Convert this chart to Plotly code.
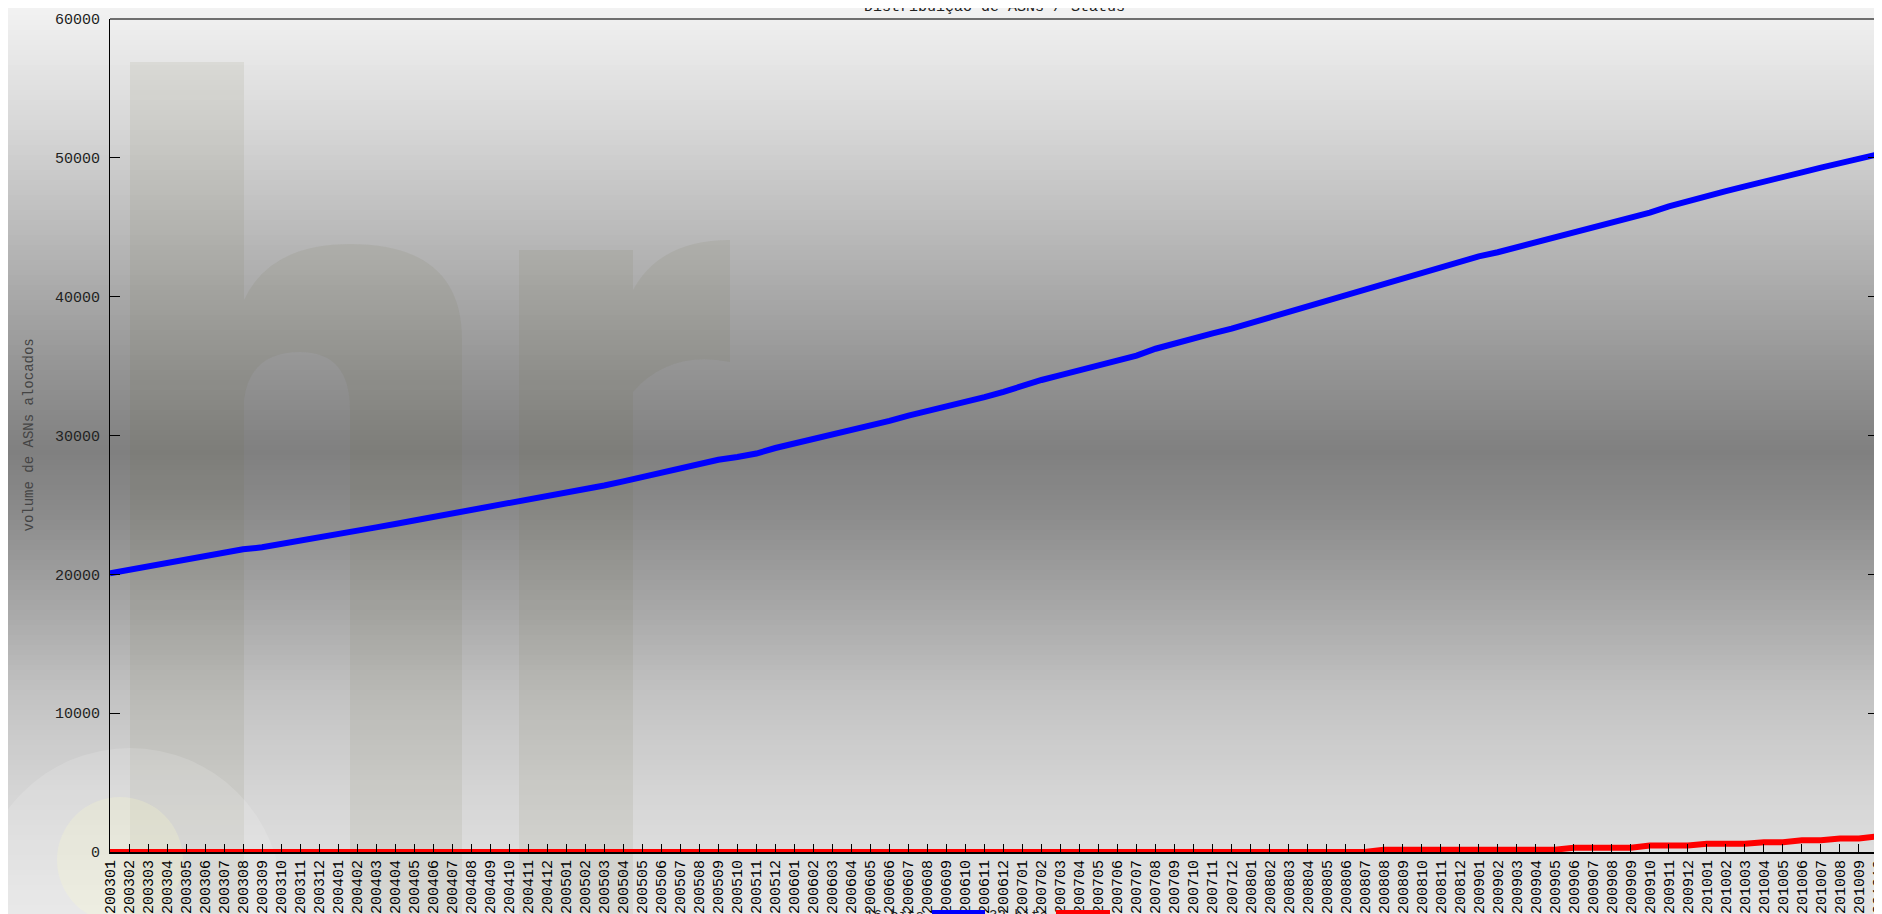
import plotly.graph_objects as go

# ---------------- data ----------------
months = [f"{y}{m:02d}" for y in range(2003, 2011) for m in range(1, 13)][:94]

asn_16bits = [
    20080, 20330, 20560, 20850, 21120, 21400, 21640, 21800, 21950, 22180, 22420, 22600,
    22880, 23120, 23380, 23630, 23880, 24150, 24380, 24560, 24840, 25080, 25350, 25560,
    25820, 26100, 26400, 26700, 27000, 27400, 27700, 27980, 28250, 28450, 28700, 29100,
    29420, 29700, 30050, 30380, 30700, 31050, 31430, 31750, 32050, 32400, 32760, 33150,
    33600, 34000, 34350, 34700, 35100, 35450, 35750, 36250, 36650, 37000, 37350, 37700,
    38100, 38500, 38900, 39300, 39700, 40100, 40550, 41000, 41400, 41800, 42200, 42550,
    42900, 43200, 43550, 43900, 44250, 44650, 45000, 45350, 45700, 46050, 46500, 46900,
    47250, 47600, 47950, 48250, 48600, 48950, 49300, 49600, 49900, 50250,
]

asn_32bits = [
    0, 0, 0, 0, 0, 0, 0, 0, 0, 0, 0, 0,
    0, 0, 0, 0, 0, 0, 0, 0, 0, 0, 0, 0,
    0, 0, 0, 0, 0, 0, 0, 0, 0, 0, 0, 0,
    0, 0, 0, 0, 0, 0, 0, 0, 0, 0, 0, 0,
    0, 0, 0, 0, 0, 0, 0, 0, 0, 0, 0, 0,
    0, 0, 0, 0, 0, 0, 0, 170, 170, 170, 170, 170,
    170, 170, 170, 170, 170, 300, 300, 300, 300, 460, 460, 460,
    590, 590, 590, 710, 710, 850, 850, 970, 970, 1140,
]

y_ticks = [0, 10000, 20000, 30000, 40000, 50000, 60000]
title_text = "Distribuição de ASNs / Status"
y_title = "volume de ASNs alocados"
legend_names = ["16 bits", "32 bits"]

# ---------------- geometry (style only) ----------------
# the page body adds an 8px offset; plot area in page pixels: x 110..1878, y 19..852
OFF = 8
W, H = 1882, 914
PL, PR, PT, PB = 110, 1878, 19, 852
PW, PH = PR - PL, PB - PT
L, T = PL - OFF, PT - OFF
R = W - (PR - OFF)
B = H - (PB - OFF)


def px(x):
    return (x - PL) / PW


def py(y):
    return (PB - y) / PH


MONO = "Liberation Mono, DejaVu Sans Mono, monospace"

fig = go.Figure()
fig.add_trace(go.Scatter(x=months, y=asn_16bits, mode="lines", name=legend_names[0],
                         line=dict(color="#0000ff", width=6)))
fig.add_trace(go.Scatter(x=months, y=asn_32bits, mode="lines", name=legend_names[1],
                         line=dict(color="#ff0000", width=6)))

shapes = []
stops = [(0, 244), (130, 214), (260, 178), (370, 148), (450, 128), (510, 138),
         (590, 162), (700, 196), (800, 214), (930, 232)]


def grey_at(y):
    for (y0, c0), (y1, c1) in zip(stops[:-1], stops[1:]):
        if y0 <= y <= y1:
            return round(c0 + (c1 - c0) * (y - y0) / (y1 - y0))
    return stops[-1][1]


band = 5
for yb in range(0, 930, band):
    g = grey_at(yb + band / 2)
    shapes.append(dict(type="rect", xref="paper", yref="paper", layer="below",
                       x0=px(0), x1=px(1900), y0=py(yb + band), y1=py(yb),
                       line=dict(width=0), fillcolor=f"rgb({g},{g},{g})"))

WM = "rgba(100,100,50,0.09)"
shapes.append(dict(type="rect", xref="paper", yref="paper", layer="below",
                   x0=px(130), x1=px(244), y0=py(930), y1=py(62), line=dict(width=0),
                   fillcolor=WM))


def path_px(cmds):
    out = []
    for c in cmds:
        if isinstance(c, str):
            out.append(c)
        else:
            out.append(f"{px(c[0]):.5f},{py(c[1]):.5f}")
    return " ".join(out)


bowl = path_px(["M", (244, 930), "L", (244, 300), "Q", (270, 244), (350, 244),
                "Q", (462, 244), (462, 340), "L", (462, 930), "Z",
                "M", (244, 930), "L", (244, 400), "Q", (250, 352), (300, 352),
                "Q", (350, 352), (350, 410), "L", (350, 930), "Z"])
shapes.append(dict(type="path", xref="paper", yref="paper", layer="below", path=bowl,
                   fillrule="evenodd", line=dict(width=0), fillcolor=WM))
shapes.append(dict(type="rect", xref="paper", yref="paper", layer="below",
                   x0=px(519), x1=px(633), y0=py(930), y1=py(250), line=dict(width=0),
                   fillcolor=WM))
arm = path_px(["M", (633, 290), "Q", (660, 240), (730, 240), "L", (730, 362),
               "Q", (670, 350), (633, 392), "Z"])
shapes.append(dict(type="path", xref="paper", yref="paper", layer="below", path=arm,
                   line=dict(width=0), fillcolor=WM))
shapes.append(dict(type="circle", xref="paper", yref="paper", layer="below",
                   x0=px(-22), x1=px(282), y0=py(1052), y1=py(748), line=dict(width=0),
                   fillcolor="rgba(255,255,255,0.14)"))
shapes.append(dict(type="circle", xref="paper", yref="paper", layer="below",
                   x0=px(57), x1=px(183), y0=py(923), y1=py(797), line=dict(width=0),
                   fillcolor="rgba(255,255,200,0.22)"))

# top frame line
shapes.append(dict(type="line", xref="paper", yref="paper", x0=0, x1=1, y0=1, y1=1,
                   line=dict(color="#6e6e6e", width=2)))
# legend swatches
shapes.append(dict(type="rect", xref="paper", yref="paper", x0=px(932), x1=px(985),
                   y0=py(918), y1=py(910), line=dict(width=0), fillcolor="#0000ff"))
shapes.append(dict(type="rect", xref="paper", yref="paper", x0=px(1056), x1=px(1110),
                   y0=py(918), y1=py(910), line=dict(width=0), fillcolor="#ff0000"))

annotations = [
    dict(text=title_text, xref="paper", yref="paper", x=0.5, y=py(18), xanchor="center",
         yanchor="bottom", showarrow=False, font=dict(family=MONO, size=15, color="#222")),
    dict(text=y_title, xref="paper", yref="paper", x=px(28), y=0.5, textangle=-90,
         xanchor="center", yanchor="middle", showarrow=False,
         font=dict(family=MONO, size=14, color="#444")),
    dict(text=legend_names[0], xref="paper", yref="paper", x=px(926), y=py(906),
         xanchor="right", yanchor="top", showarrow=False,
         font=dict(family=MONO, size=14, color="#222")),
    dict(text=legend_names[1], xref="paper", yref="paper", x=px(1050), y=py(906),
         xanchor="right", yanchor="top", showarrow=False,
         font=dict(family=MONO, size=14, color="#222")),
]

fig.update_layout(
    width=W, height=H,
    margin=dict(l=L, r=R, t=T, b=B, autoexpand=False),
    paper_bgcolor="#e8e8e8", plot_bgcolor="rgba(0,0,0,0)",
    showlegend=False, shapes=shapes, annotations=annotations,
    xaxis=dict(type="category", range=[0, len(months) - 1], tickmode="array",
               tickvals=months, ticktext=months, tickangle=-90,
               tickfont=dict(family=MONO, size=15, color="#000"),
               ticks="inside", ticklen=8, tickcolor="#000", tickwidth=1,
               showline=True, linecolor="#000", linewidth=2, showgrid=False,
               zeroline=False, automargin=False),
    yaxis=dict(range=[0, 60000], tickmode="array", tickvals=y_ticks,
               ticktext=[str(v) for v in y_ticks],
               tickfont=dict(family=MONO, size=15, color="#222"),
               ticks="inside", ticklen=10, tickcolor="#000", tickwidth=1,
               ticklabelstandoff=6,
               showline=True, linecolor="#000", linewidth=1, mirror="ticks",
               showgrid=False, zeroline=False, automargin=False),
)

fig.write_html("out.html")
